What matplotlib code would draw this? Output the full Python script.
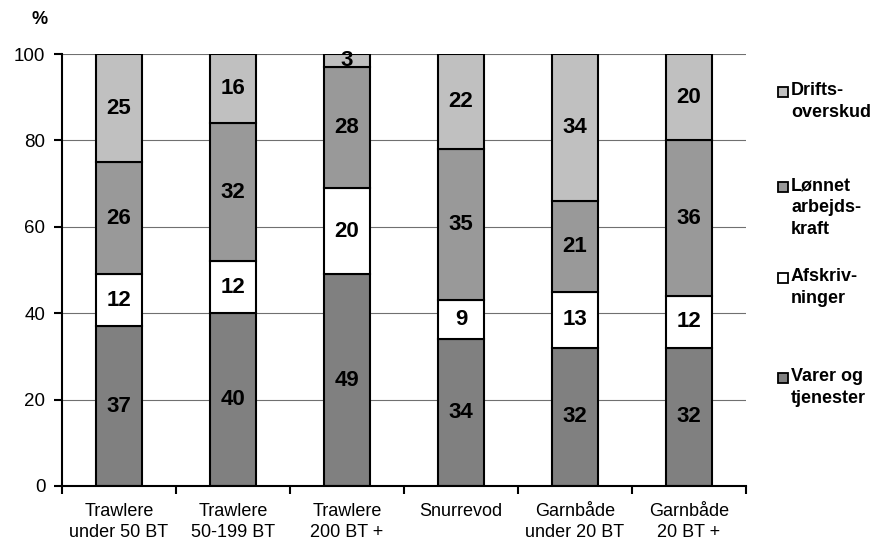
import matplotlib
matplotlib.use("Agg")
import matplotlib.pyplot as plt
import numpy as np
from matplotlib.patches import Rectangle

plt.rcParams['font.family'] = ['Liberation Sans', 'DejaVu Sans']

categories = ["Trawlere\nunder 50 BT", "Trawlere\n50-199 BT", "Trawlere\n200 BT +",
              "Snurrevod", "Garnbåde\nunder 20 BT", "Garnbåde\n20 BT +"]
varer = [37, 40, 49, 34, 32, 32]
afskriv = [12, 12, 20, 9, 13, 12]
lonnet = [26, 32, 28, 35, 21, 36]
drifts = [25, 16, 3, 22, 34, 20]

series = [varer, afskriv, lonnet, drifts]
names = ["Varer og\ntjenester", "Afskriv-\nninger", "Lønnet\narbejds-\nkraft", "Drifts-\noverskud"]
colors = ["#808080", "#ffffff", "#999999", "#c0c0c0"]

fig = plt.figure(figsize=(8.74, 5.44), dpi=100)
ax = fig.add_axes([62/874, 58/544, 684/874, 432/544])

x = np.arange(len(categories))
bottom = np.zeros(len(categories))
for vals, col in zip(series, colors):
    vals = np.array(vals, dtype=float)
    ax.bar(x, vals, bottom=bottom, width=0.4, color=col, edgecolor='black',
           linewidth=1.5, zorder=3)
    for xi, b, v in zip(x, bottom, vals):
        ax.text(xi, b + v/2, f"{int(v)}", ha='center', va='center',
                fontsize=16, fontweight='bold', zorder=4)
    bottom += vals

ax.set_xlim(-0.5, len(categories) - 0.5)
ax.set_ylim(0, 100)
ax.set_yticks([0, 20, 40, 60, 80, 100])
ax.tick_params(axis='y', labelsize=13.5, length=6, width=1.5, direction='out', pad=6)
ax.set_xticks(x)
ax.set_xticklabels(categories, fontsize=13, linespacing=1.35)
ax.tick_params(axis='x', length=0, pad=12)
ax.set_xticks(np.arange(-0.5, len(categories)), minor=True)
ax.tick_params(axis='x', which='minor', length=6, width=1.5, direction='out')
ax.grid(axis='y', color='#707070', linewidth=0.8, zorder=0)
for s in ['top', 'right']:
    ax.spines[s].set_visible(False)
for s in ['left', 'bottom']:
    ax.spines[s].set_linewidth(1.5)
    ax.spines[s].set_zorder(5)

fig.text(40/874, 1 - 20/544, "%", fontsize=13, fontweight='bold', ha='center', va='center')

# legend (manual), top to bottom
leg_items = [(names[3], colors[3], 87), (names[2], colors[2], 182),
             (names[1], colors[1], 273), (names[0], colors[0], 373)]
for name, col, ytop in leg_items:
    fig.patches.append(Rectangle((778/874, 1 - (ytop + 10)/544), 10/874, 10/544,
                                 transform=fig.transFigure, facecolor=col,
                                 edgecolor='black', linewidth=1.3))
    fig.text(791/874, 1 - (ytop - 5)/544, name, fontsize=13, fontweight='bold',
             ha='left', va='top', linespacing=1.4)

fig.savefig("out.png", dpi=100)
